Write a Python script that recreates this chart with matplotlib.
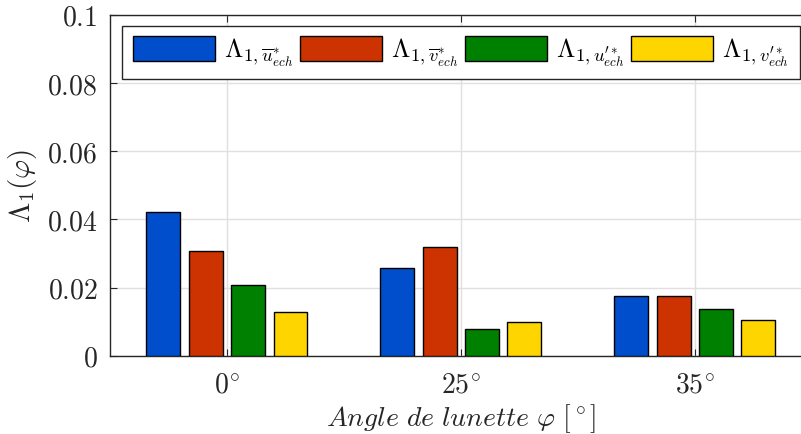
import matplotlib
matplotlib.use("Agg")
import matplotlib.pyplot as plt
import numpy as np

# values
angles = [r"$0^{\circ}$", r"$25^{\circ}$", r"$35^{\circ}$"]
lam_u_mean = [0.0423, 0.0256, 0.0176]
lam_v_mean = [0.0306, 0.0319, 0.0176]
lam_u_fluct = [0.0208, 0.0079, 0.0137]
lam_v_fluct = [0.0129, 0.0100, 0.0105]

series = [lam_u_mean, lam_v_mean, lam_u_fluct, lam_v_fluct]
labels = [r"$\Lambda_{1,\overline{u}^{*}_{ech}}$",
          r"$\Lambda_{1,\overline{v}^{*}_{ech}}$",
          r"$\Lambda_{1,u^{\prime *}_{ech}}$",
          r"$\Lambda_{1,v^{\prime *}_{ech}}$"]
colors = ["#004ecc", "#cc3300", "#008000", "#ffd500"]

yticks = [0, 0.02, 0.04, 0.06, 0.08, 0.1]
ytick_labels = ["$0$", "$0.02$", "$0.04$", "$0.06$", "$0.08$", "$0.1$"]

plt.rcParams["mathtext.fontset"] = "cm"
axcol = "#262626"

W, H = 801, 434
fig = plt.figure(figsize=(W / 100, H / 100), dpi=100)
# axes runs slightly past the right edge, like the cropped original
ax = fig.add_axes([110 / W, (H - 355.7) / H, (811.7 - 110) / W, (355.7 - 15) / H])

x = np.arange(1, len(angles) + 1)
step = 0.1812
width = 0.145
handles = []
for i, (vals, col) in enumerate(zip(series, colors)):
    b = ax.bar(x + (i - 1.5) * step, vals, width, color=col,
               edgecolor="black", linewidth=1.0, zorder=3)
    handles.append(b)

ax.set_xlim(0.5, 3.5)
ax.set_ylim(0, 0.1)
ax.set_xticks(x)
ax.set_xticklabels(angles)
ax.set_yticks(yticks)
ax.set_yticklabels(ytick_labels)
ax.tick_params(direction="in", length=5, width=0.8, colors=axcol,
               labelsize=20, top=True, right=True, pad=9)
ax.tick_params(axis="x", pad=11)
ax.grid(True, color="#e0e0e0", linewidth=1.0, zorder=0)
ax.set_axisbelow(True)
for s in ax.spines.values():
    s.set_color(axcol)
    s.set_linewidth(1.0)

ax.set_ylabel(r"$\Lambda_1(\varphi)$", fontsize=21, color=axcol, labelpad=6)
ax.set_xlabel(r"$Angle\ de\ lunette\ \varphi\ [^\circ]$", fontsize=20,
              color=axcol, labelpad=2)

leg = fig.legend(handles, labels, ncol=4, mode="expand",
                 bbox_to_anchor=(122.3 / W, (H - 79.3) / H,
                                 (799.5 - 122.3) / W, 46.6 / H),
                 loc="lower left", fontsize=19, handlelength=3.1,
                 handleheight=1.05, handletextpad=0.35, columnspacing=0.5,
                 borderaxespad=0, borderpad=0.4, fancybox=False,
                 framealpha=1, edgecolor=axcol)
leg.get_frame().set_linewidth(1.0)

fig.savefig("out.png", dpi=100)
